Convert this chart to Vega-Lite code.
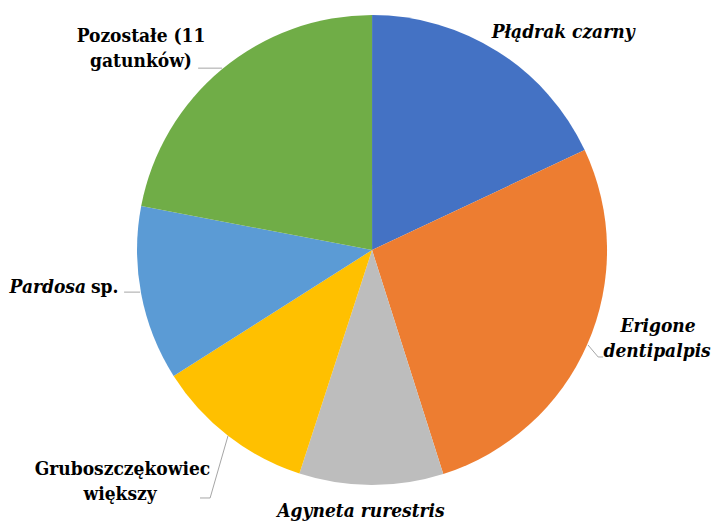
{
  "$schema": "https://vega.github.io/schema/vega-lite/v6.json",
  "width": 714,
  "height": 525,
  "autosize": "none",
  "padding": 0,
  "background": "white",
  "config": {"view": {"stroke": null}},
  "datasets": {
    "slices": [
      {"species": "Płądrak czarny", "share": 18.0, "idx": 1},
      {"species": "Erigone dentipalpis", "share": 27.1, "idx": 2},
      {"species": "Agyneta rurestris", "share": 9.9, "idx": 3},
      {"species": "Gruboszczękowiec większy", "share": 11.0, "idx": 4},
      {"species": "Pardosa sp.", "share": 12.0, "idx": 5},
      {"species": "Pozostałe (11 gatunków)", "share": 22.0, "idx": 6}
    ],
    "italicLabels": [
      {"text": "Płądrak czarny", "u": 0.813, "v": 0.902},
      {"text": "Erigone", "u": 1.217, "v": -0.349},
      {"text": "dentipalpis", "u": 1.213, "v": -0.455},
      {"text": "Agyneta rurestris", "u": -0.047, "v": -1.136}
    ],
    "normalLabels": [
      {"text": "Pozostałe (11", "u": -0.983, "v": 0.885},
      {"text": "gatunków)", "u": -0.983, "v": 0.779},
      {"text": "Gruboszczękowiec", "u": -1.062, "v": -0.957},
      {"text": "większy", "u": -1.072, "v": -1.064}
    ],
    "pardosaItalic": [{"text": "Pardosa", "u": -1.217, "v": -0.183}],
    "pardosaNormal": [{"text": "sp.", "u": -1.196, "v": -0.183}],
    "leaders": [
      {"line": "poz", "k": 1, "u": -0.740, "v": 0.774},
      {"line": "poz", "k": 2, "u": -0.638, "v": 0.774},
      {"line": "par", "k": 1, "u": -1.055, "v": -0.179},
      {"line": "par", "k": 2, "u": -0.987, "v": -0.179},
      {"line": "gru", "k": 1, "u": -0.732, "v": -1.055},
      {"line": "gru", "k": 2, "u": -0.689, "v": -1.055},
      {"line": "gru", "k": 3, "u": -0.613, "v": -0.791},
      {"line": "eri", "k": 1, "u": 0.919, "v": -0.404},
      {"line": "eri", "k": 2, "u": 0.962, "v": -0.455},
      {"line": "eri", "k": 3, "u": 0.983, "v": -0.455}
    ]
  },
  "resolve": {"scale": {"x": "shared", "y": "shared"}},
  "layer": [
    {
      "data": {"name": "slices"},
      "mark": {"type": "arc", "outerRadius": 235, "stroke": null},
      "encoding": {
        "theta": {"field": "share", "type": "quantitative", "stack": true},
        "order": {"field": "idx", "type": "quantitative"},
        "color": {
          "field": "species",
          "type": "nominal",
          "legend": null,
          "scale": {
            "domain": ["Płądrak czarny", "Erigone dentipalpis", "Agyneta rurestris", "Gruboszczękowiec większy", "Pardosa sp.", "Pozostałe (11 gatunków)"],
            "range": ["#4472C4", "#ED7D31", "#BDBDBD", "#FFC000", "#5B9BD5", "#70AD47"]
          }
        },
        "x": {"datum": 0, "type": "quantitative", "scale": {"domain": [-1.583, 1.455], "nice": false, "zero": false}, "axis": null},
        "y": {"datum": 0, "type": "quantitative", "scale": {"domain": [-1.170, 1.064], "nice": false, "zero": false}, "axis": null}
      }
    },
    {
      "data": {"name": "leaders"},
      "mark": {"type": "line", "stroke": "#A6A6A6", "strokeWidth": 1},
      "encoding": {
        "x": {"field": "u", "type": "quantitative"},
        "y": {"field": "v", "type": "quantitative"},
        "detail": {"field": "line", "type": "nominal"},
        "order": {"field": "k", "type": "quantitative"}
      }
    },
    {
      "data": {"name": "italicLabels"},
      "mark": {"type": "text", "font": "DejaVu Serif Condensed", "fontSize": 19, "fontWeight": "bold", "fontStyle": "italic", "align": "center", "baseline": "alphabetic", "color": "black"},
      "encoding": {
        "x": {"field": "u", "type": "quantitative"},
        "y": {"field": "v", "type": "quantitative"},
        "text": {"field": "text"}
      }
    },
    {
      "data": {"name": "normalLabels"},
      "mark": {"type": "text", "font": "DejaVu Serif Condensed", "fontSize": 19, "fontWeight": "bold", "align": "center", "baseline": "alphabetic", "color": "black"},
      "encoding": {
        "x": {"field": "u", "type": "quantitative"},
        "y": {"field": "v", "type": "quantitative"},
        "text": {"field": "text"}
      }
    },
    {
      "data": {"name": "pardosaItalic"},
      "mark": {"type": "text", "font": "DejaVu Serif Condensed", "fontSize": 19, "fontWeight": "bold", "fontStyle": "italic", "align": "right", "baseline": "alphabetic", "color": "black"},
      "encoding": {
        "x": {"field": "u", "type": "quantitative"},
        "y": {"field": "v", "type": "quantitative"},
        "text": {"field": "text"}
      }
    },
    {
      "data": {"name": "pardosaNormal"},
      "mark": {"type": "text", "font": "DejaVu Serif Condensed", "fontSize": 19, "fontWeight": "bold", "align": "left", "baseline": "alphabetic", "color": "black"},
      "encoding": {
        "x": {"field": "u", "type": "quantitative"},
        "y": {"field": "v", "type": "quantitative"},
        "text": {"field": "text"}
      }
    }
  ]
}
